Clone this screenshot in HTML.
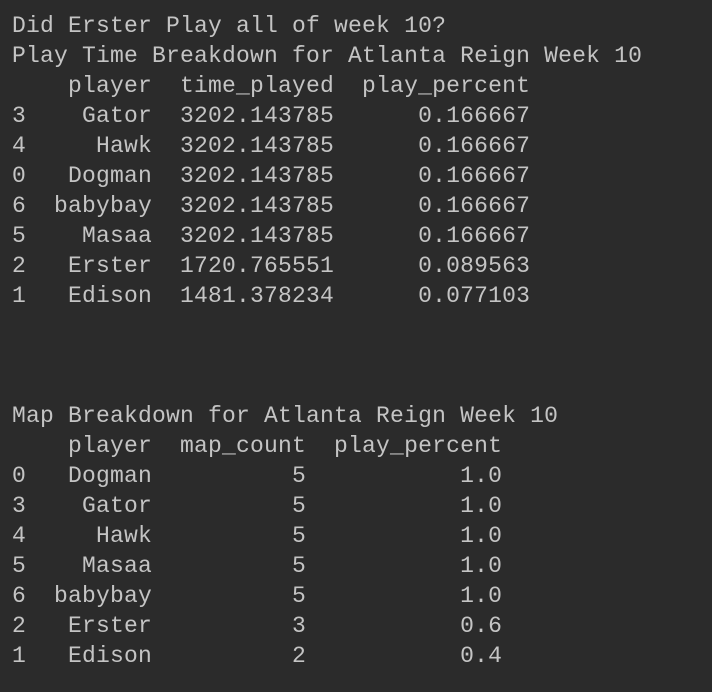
<!DOCTYPE html>
<html><head><meta charset="utf-8"><style>
html,body{margin:0;padding:0;background:#2b2b2b;width:712px;height:692px;overflow:hidden}
pre{margin:0;padding:11px 0 0 12px;font-family:"Liberation Mono","DejaVu Sans Mono",monospace;font-size:23px;letter-spacing:0.2px;line-height:30px;color:#c4c4c4}
</style></head><body>
<pre><span>Did Erster Play all of week 10?</span>
<span>Play Time Breakdown for Atlanta Reign Week 10</span>
<span>    player  time_played  play_percent
3    Gator  3202.143785      0.166667
4     Hawk  3202.143785      0.166667
0   Dogman  3202.143785      0.166667
6  babybay  3202.143785      0.166667
5    Masaa  3202.143785      0.166667
2   Erster  1720.765551      0.089563
1   Edison  1481.378234      0.077103</span>



<span>Map Breakdown for Atlanta Reign Week 10</span>
<span>    player  map_count  play_percent
0   Dogman          5           1.0
3    Gator          5           1.0
4     Hawk          5           1.0
5    Masaa          5           1.0
6  babybay          5           1.0
2   Erster          3           0.6
1   Edison          2           0.4</span></pre>
</body></html>
